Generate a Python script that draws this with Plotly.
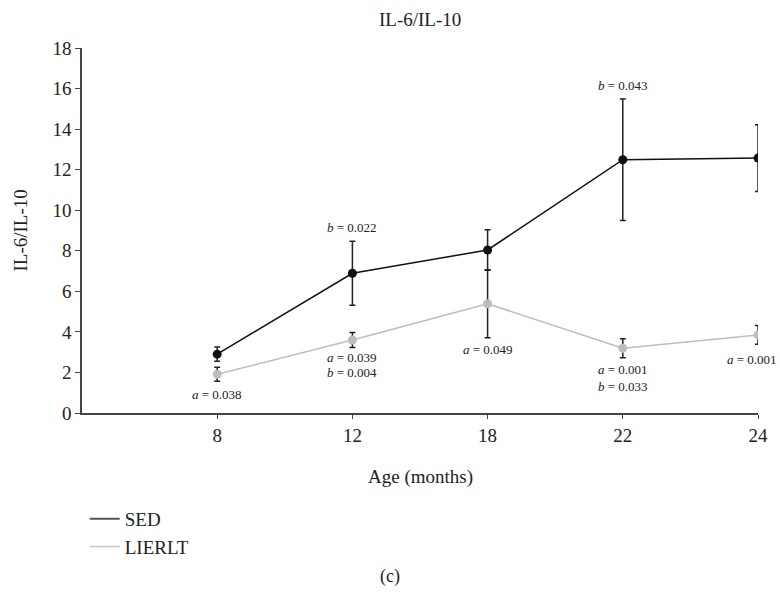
import plotly.graph_objects as go

ages = ["8", "12", "18", "22", "24"]
sed_mean = [2.9, 6.89, 8.04, 12.49, 12.57]
sed_err = [0.35, 1.58, 1.0, 3.0, 1.65]
lie_mean = [1.91, 3.6, 5.39, 3.19, 3.85]
lie_err = [0.35, 0.37, 1.68, 0.47, 0.46]

# annotations: (category index, y value, text, horizontal pixel shift)
notes = [
    (1, 9.17, "<i>b</i> = 0.022", 0),
    (3, 16.17, "<i>b</i> = 0.043", 0),
    (0, 0.89, "<i>a</i> = 0.038", 0),
    (1, 2.73, "<i>a</i> = 0.039", 0),
    (1, 1.99, "<i>b</i> = 0.004", 0),
    (2, 3.11, "<i>a</i> = 0.049", 0),
    (3, 2.15, "<i>a</i> = 0.001", 0),
    (3, 1.33, "<i>b</i> = 0.033", 0),
    (4, 2.65, "<i>a</i> = 0.001", -6),
]

xpos = list(range(1, len(ages) + 1))
FONT = "Liberation Serif"
TXT = "#222"

fig = go.Figure()
fig.add_trace(go.Scatter(
    x=xpos, y=lie_mean, name="LIERLT", mode="lines+markers",
    line=dict(color="#bdbdbd", width=1.5),
    marker=dict(color="#bdbdbd", size=9),
    error_y=dict(type="data", array=lie_err, color="#222", thickness=1.5, width=3),
    showlegend=False,
))
fig.add_trace(go.Scatter(
    x=xpos, y=sed_mean, name="SED", mode="lines+markers",
    line=dict(color="#111", width=1.5),
    marker=dict(color="#111", size=9),
    error_y=dict(type="data", array=sed_err, color="#222", thickness=1.5, width=3),
    showlegend=False,
))
# legend entries (lines only)
fig.add_trace(go.Scatter(x=[None], y=[None], mode="lines", name="SED",
                         line=dict(color="#555", width=2)))
fig.add_trace(go.Scatter(x=[None], y=[None], mode="lines", name="LIERLT",
                         line=dict(color="#c8c8c8", width=1.5)))

for i, yv, txt, xs in notes:
    fig.add_annotation(x=xpos[i], y=yv, text=txt, showarrow=False,
                       xref="x", yref="y", yanchor="middle", xshift=xs,
                       font=dict(family=FONT, size=13, color=TXT))

fig.add_annotation(x=0.5, y=1.077, xref="paper", yref="paper",
                   text="IL-6/IL-10", showarrow=False, yanchor="middle",
                   font=dict(family=FONT, size=19, color=TXT))
fig.add_annotation(x=-0.0917, y=0.5, xref="paper", yref="paper",
                   text="IL-6/IL-10", showarrow=False, textangle=-90,
                   xanchor="center", yanchor="middle",
                   font=dict(family=FONT, size=19, color=TXT))
fig.add_annotation(x=0.5, y=-0.175, xref="paper", yref="paper",
                   text="Age (months)", showarrow=False, yanchor="middle",
                   font=dict(family=FONT, size=19, color=TXT))
fig.add_annotation(x=(390 - 82) / 676, y=(413 - 576) / 365, xref="paper",
                   yref="paper", text="(c)", showarrow=False,
                   xanchor="center", yanchor="middle",
                   font=dict(family=FONT, size=18, color=TXT))

fig.update_layout(
    width=780, height=594,
    margin=dict(l=82, r=22, t=48, b=181),
    plot_bgcolor="white", paper_bgcolor="white",
    font=dict(family=FONT, size=19, color=TXT),
    legend=dict(x=0.004, y=-0.238, xanchor="left", yanchor="top",
                font=dict(family=FONT, size=19, color=TXT), tracegroupgap=0,
                itemwidth=30, bgcolor="rgba(0,0,0,0)"),
    xaxis=dict(range=[0, len(ages)], tickvals=xpos, ticktext=ages,
               showline=True, linecolor="#444", linewidth=1.5,
               ticks="outside", ticklen=4, tickcolor="#444",
               showgrid=False, zeroline=False,
               tickfont=dict(family=FONT, size=19, color=TXT)),
    yaxis=dict(range=[0, 18], dtick=2, showline=True, linecolor="#444",
               linewidth=1.5, ticks="outside", ticklen=5, tickcolor="#444",
               showgrid=False, zeroline=False,
               tickfont=dict(family=FONT, size=19, color=TXT)),
)

fig.write_html("out.html")
